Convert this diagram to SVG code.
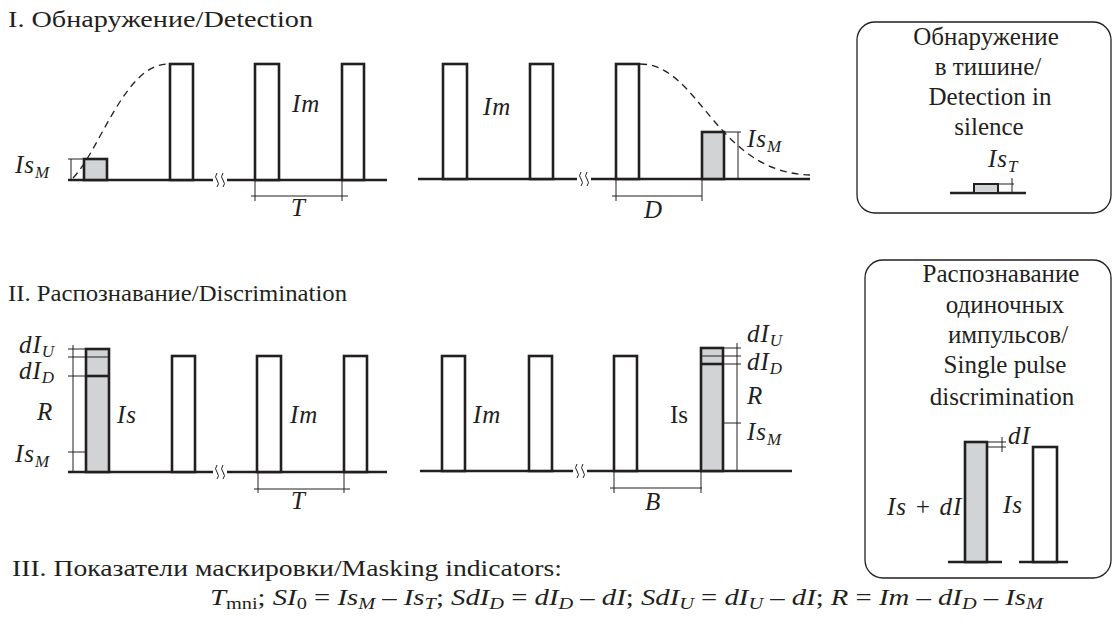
<svg xmlns="http://www.w3.org/2000/svg" width="1113" height="635" viewBox="0 0 1113 635">
<style>
text{font-family:"Liberation Serif","Times New Roman","DejaVu Serif",serif;fill:#231f20}
.t{font-size:23px}
.b{font-size:25px}
.i{font-size:25px;font-style:italic;letter-spacing:1px}
.s{font-size:17px;letter-spacing:0}
.fs{font-size:17px}
.p{fill:#fff;stroke:#231f20;stroke-width:2.6}
.g{fill:#d1d3d4;stroke:#231f20;stroke-width:2.6}
.ax{stroke:#231f20;stroke-width:2.6;fill:none}
.d{stroke:#231f20;stroke-width:1;fill:none}
.dash{stroke:#231f20;stroke-width:1.3;fill:none;stroke-dasharray:7 5}
.br{stroke:#231f20;stroke-width:1;fill:none}
.box{fill:none;stroke:#231f20;stroke-width:1.3}
</style>

<g id="titles">
<text class="t" x="8" y="27" textLength="305" lengthAdjust="spacingAndGlyphs">I. Обнаружение/Detection</text>
<text class="t" x="8" y="301" textLength="339" lengthAdjust="spacingAndGlyphs">II. Распознавание/Discrimination</text>
<text class="t" x="12" y="576" textLength="550" lengthAdjust="spacingAndGlyphs">III. Показатели маскировки/Masking indicators:</text>
</g>

<!-- Panel I -->
<g id="panel1-left">
<path class="ax" d="M68,180 H213 M227,180 H387"/>
<path class="br" d="M217,173 q-3,4 0,7 q3,4 0,7 M223,173 q-3,4 0,7 q3,4 0,7"/>
<rect class="g" x="84" y="159" width="23" height="21"/>
<rect class="p" x="170" y="64" width="23" height="116"/>
<path class="dash" d="M73,178 C100,150 125,64 168,64"/>
<path class="d" d="M68,159 H84 M71,159 V180"/>
<text class="i" x="15" y="173">Is<tspan class="s" dy="5">M</tspan></text>
<rect class="p" x="255" y="64" width="24" height="116"/>
<rect class="p" x="342" y="64" width="22" height="116"/>
<text class="i" x="292" y="112">Im</text>
<path class="d" d="M255,180 V201 M342,180 V201 M251,196 H348"/>
<text class="i" x="291" y="216">T</text>
</g>

<g id="panel1-right">
<path class="ax" d="M418,179 H577 M591,179 H810"/>
<path class="br" d="M581,172 q-3,4 0,7 q3,4 0,7 M587,172 q-3,4 0,7 q3,4 0,7"/>
<rect class="p" x="443" y="64" width="24" height="115"/>
<rect class="p" x="530" y="64" width="23" height="115"/>
<rect class="p" x="616" y="64" width="23" height="115"/>
<rect class="g" x="702" y="132" width="22" height="47"/>
<path class="dash" d="M640,64 C700,64 715,172 810,175"/>
<path class="d" d="M724,132 H741 M738,132 V179"/>
<text class="i" x="747" y="147">Is<tspan class="s" dy="5">M</tspan></text>
<text class="i" x="483" y="115">Im</text>
<path class="d" d="M616,179 V201 M702,179 V201 M612,196 H702"/>
<text class="i" x="644" y="218">D</text>
</g>

<g id="box-detection-silence">
<rect class="box" x="857" y="22" width="254" height="191" rx="18"/>
<text class="b" x="986" y="45" text-anchor="middle">Обнаружение</text>
<text class="b" x="988" y="75" text-anchor="middle">в тишине/</text>
<text class="b" x="990" y="105" text-anchor="middle">Detection in</text>
<text class="b" x="989" y="135" text-anchor="middle">silence</text>
<text class="i" x="988" y="167">Is<tspan class="s" dy="5">T</tspan></text>
<path class="ax" d="M950,193 H1026"/>
<rect class="g" x="974" y="184" width="24" height="9" style="stroke-width:2"/>
<path class="d" d="M998,184 H1014 M1012,178 V193"/>
</g>

<!-- Panel II -->
<g id="panel2-left">
<path class="ax" d="M68,472 H213 M227,472 H387"/>
<path class="br" d="M217,465 q-3,4 0,7 q3,4 0,7 M223,465 q-3,4 0,7 q3,4 0,7"/>
<rect class="g" x="86" y="349" width="23" height="123"/>
<path class="d" d="M86,357 H109"/>
<path class="ax" d="M86,376 H109"/>
<rect class="p" x="172" y="356" width="23" height="116"/>
<path class="d" d="M73,345 V472 M68,349 H86 M68,357 H86 M68,376 H86 M68,452 H86"/>
<text class="i" x="19" y="353">dI<tspan class="s" dy="4">U</tspan></text>
<text class="i" x="19" y="379">dI<tspan class="s" dy="4">D</tspan></text>
<text class="i" x="37" y="420">R</text>
<text class="i" x="15" y="462">Is<tspan class="s" dy="5">M</tspan></text>
<text class="i" x="117" y="423">Is</text>
<rect class="p" x="257" y="356" width="24" height="116"/>
<rect class="p" x="344" y="356" width="23" height="116"/>
<text class="i" x="290" y="423">Im</text>
<path class="d" d="M258,472 V493 M344,472 V493 M254,489 H350"/>
<text class="i" x="291" y="509">T</text>
</g>

<g id="panel2-right">
<path class="ax" d="M420,471 H573 M587,471 H792"/>
<path class="br" d="M577,464 q-3,4 0,7 q3,4 0,7 M583,464 q-3,4 0,7 q3,4 0,7"/>
<rect class="p" x="442" y="356" width="23" height="115"/>
<rect class="p" x="529" y="356" width="23" height="115"/>
<rect class="p" x="614" y="356" width="23" height="115"/>
<rect class="g" x="701" y="348" width="22" height="123"/>
<path class="d" d="M701,356 H723"/>
<path class="ax" d="M701,364 H723"/>
<path class="d" d="M737,343 V471 M723,348 H741 M723,356 H741 M723,364 H741 M723,423 H741"/>
<text class="i" x="747" y="342">dI<tspan class="s" dy="4">U</tspan></text>
<text class="i" x="747" y="370">dI<tspan class="s" dy="4">D</tspan></text>
<text class="i" x="747" y="404">R</text>
<text class="i" x="747" y="440">Is<tspan class="s" dy="5">M</tspan></text>
<text class="b" x="670" y="423">Is</text>
<text class="i" x="473" y="423">Im</text>
<path class="d" d="M614,471 V493 M701,471 V493 M610,488 H702"/>
<text class="i" x="645" y="510">B</text>
</g>

<g id="box-single-pulse">
<rect class="box" x="865" y="260" width="246" height="318" rx="18"/>
<text class="b" x="1001" y="282" text-anchor="middle">Распознавание</text>
<text class="b" x="1005" y="313" text-anchor="middle">одиночных</text>
<text class="b" x="1008" y="343" text-anchor="middle">импульсов/</text>
<text class="b" x="1005" y="373" text-anchor="middle">Single pulse</text>
<text class="b" x="1002" y="405" text-anchor="middle">discrimination</text>
<path class="ax" d="M948,562 H1002 M1019,562 H1068"/>
<rect class="g" x="965" y="442" width="22" height="120"/>
<rect class="p" x="1033" y="447" width="24" height="115"/>
<path class="d" d="M987,442 H1006 M987,447 H1006 M1002,437 V452"/>
<text class="i" x="1008" y="444">dI</text>
<text class="i" x="887" y="515">Is + dI</text>
<text class="i" x="1003" y="513">Is</text>
</g>

<g id="formula">
<text x="210" y="605" style="font-size:24px" textLength="833" lengthAdjust="spacingAndGlyphs"><tspan font-style="italic">T</tspan><tspan class="fs" dy="4">mni</tspan><tspan dy="-4">; </tspan><tspan font-style="italic">SI</tspan><tspan class="fs" dy="4">0</tspan><tspan dy="-4"> = </tspan><tspan font-style="italic">Is</tspan><tspan class="fs" font-style="italic" dy="4">M</tspan><tspan dy="-4"> – </tspan><tspan font-style="italic">Is</tspan><tspan class="fs" font-style="italic" dy="4">T</tspan><tspan dy="-4">; </tspan><tspan font-style="italic">SdI</tspan><tspan class="fs" font-style="italic" dy="4">D</tspan><tspan dy="-4"> = </tspan><tspan font-style="italic">dI</tspan><tspan class="fs" font-style="italic" dy="4">D</tspan><tspan dy="-4"> – </tspan><tspan font-style="italic">dI</tspan><tspan>; </tspan><tspan font-style="italic">SdI</tspan><tspan class="fs" font-style="italic" dy="4">U</tspan><tspan dy="-4"> = </tspan><tspan font-style="italic">dI</tspan><tspan class="fs" font-style="italic" dy="4">U</tspan><tspan dy="-4"> – </tspan><tspan font-style="italic">dI</tspan><tspan>; </tspan><tspan font-style="italic">R</tspan><tspan> = </tspan><tspan font-style="italic">Im</tspan><tspan> – </tspan><tspan font-style="italic">dI</tspan><tspan class="fs" font-style="italic" dy="4">D</tspan><tspan dy="-4"> – </tspan><tspan font-style="italic">Is</tspan><tspan class="fs" font-style="italic" dy="4">M</tspan></text>
</g>
</svg>
